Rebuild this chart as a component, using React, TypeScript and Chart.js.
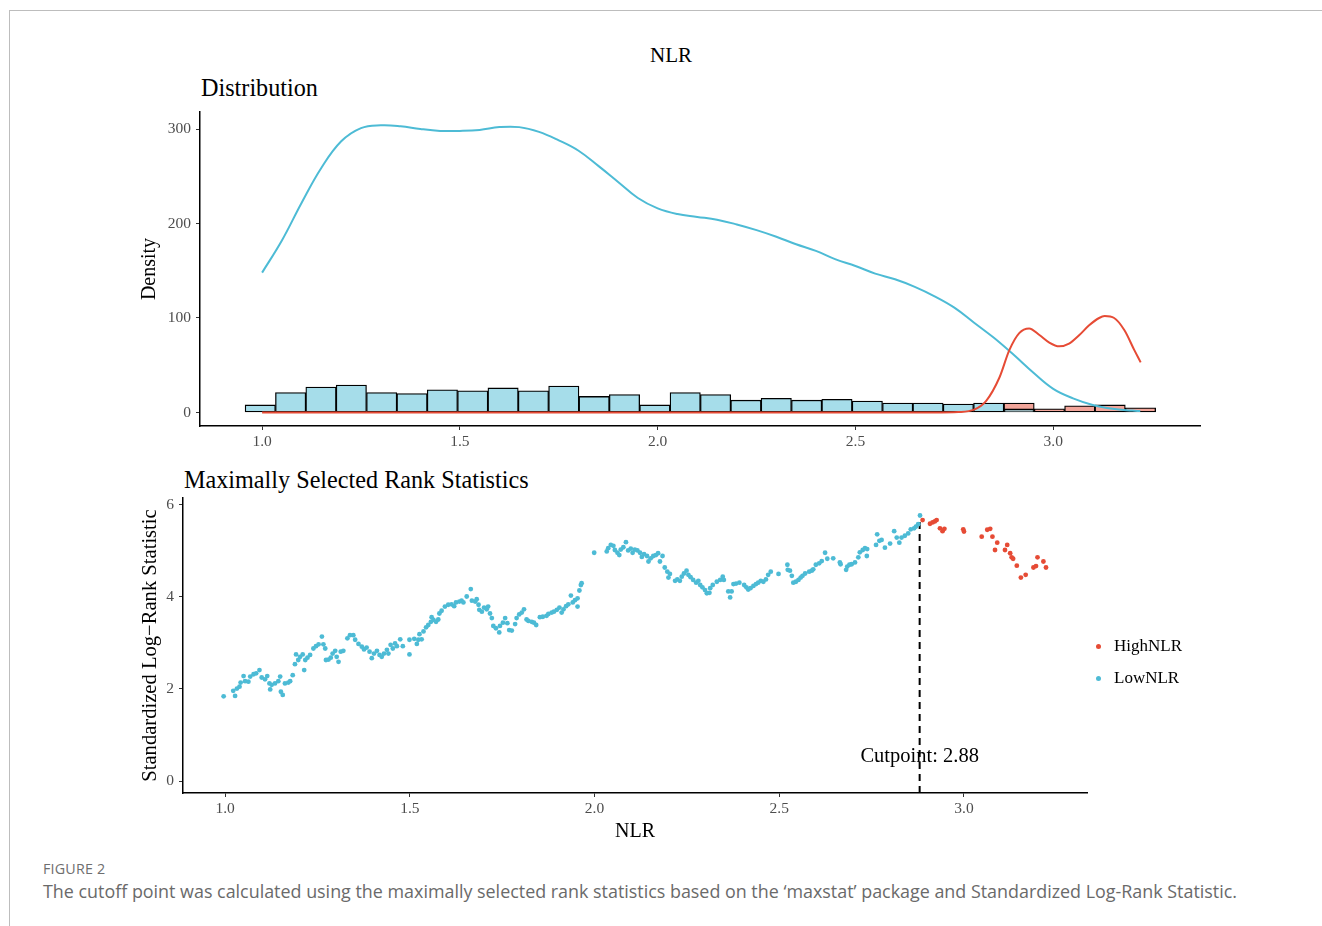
import { useEffect, useRef } from "react";
import { Chart, registerables } from "chart.js";

Chart.register(...registerables);

const SERIF = '"Liberation Serif", "Times New Roman", serif';
const SANS = '"Open Sans", "Noto Sans", sans-serif';
const LOW_COLOR = "#4DBBD5";
const HIGH_COLOR = "#E64B35";
const LOW_FILL = "#A6DDEA";
const HIGH_FILL = "#F2A59A";
const TICK_TEXT = "#4d4d4d";

// ---- Distribution panel: histogram of NLR split by group ----
const BIN_START = 0.957;
const BIN_WIDTH = 0.07673;
const lowCounts = [8, 21, 27, 29, 21, 20, 24, 23, 26, 23, 28, 17, 19, 8, 21, 19, 13, 15, 13, 14, 12, 10, 10, 9, 10, 3, 0, 0, 0, 0];
const highCounts = [0, 0, 0, 0, 0, 0, 0, 0, 0, 0, 0, 0, 0, 0, 0, 0, 0, 0, 0, 0, 0, 0, 0, 0, 0, 7, 4, 7, 8, 5];

// Group density curves (drawn on the same axis)
const lowDensityX = [1.0, 1.05, 1.1, 1.15, 1.2, 1.25, 1.3, 1.35, 1.4, 1.45, 1.5, 1.55, 1.6, 1.65, 1.7, 1.75, 1.8, 1.85, 1.9, 1.95, 2.0, 2.05, 2.1, 2.15, 2.2, 2.25, 2.3, 2.35, 2.4, 2.45, 2.5, 2.55, 2.6, 2.65, 2.7, 2.75, 2.8, 2.85, 2.9, 2.95, 3.0, 3.05, 3.1, 3.15, 3.2, 3.22];
const lowDensityY = [148, 182, 222, 259, 287, 301, 304, 303, 300, 298, 298, 299, 302, 302, 297, 288, 277, 261, 244, 227, 216, 210, 207, 204, 199, 193, 186, 178, 171, 162, 155, 147, 141, 133, 123, 111, 95, 79, 61, 42, 25, 15, 8, 4, 2, 1.5];
const highDensityX = [1.0, 1.5, 2.0, 2.5, 2.7, 2.76, 2.8, 2.83, 2.864, 2.889, 2.914, 2.939, 2.965, 2.99, 3.015, 3.04, 3.066, 3.09, 3.116, 3.13, 3.154, 3.18, 3.205, 3.221];
const highDensityY = [0, 0, 0, 0, 0, 0.5, 3, 12, 37, 66, 84, 89, 82, 74, 70, 73, 82, 92, 100, 102, 100, 87, 66, 53];

const distXTicks = [1.0, 1.5, 2.0, 2.5, 3.0];
const distYTicks = [0, 100, 200, 300];

// ---- Maximally selected rank statistics: [NLR, standardized statistic] ----
const CUTPOINT = 2.88;
const lowPoints: [number, number][] = [
  [0.996, 1.84], [1.022, 1.96], [1.027, 1.85], [1.032, 2.01], [1.039, 2.05], [1.042, 2.14], [1.05, 2.28], [1.054, 2.17], [1.063, 2.16], [1.068, 2.27],
  [1.077, 2.32], [1.084, 2.34], [1.093, 2.41], [1.099, 2.25], [1.108, 2.21], [1.114, 2.28], [1.12, 2.12], [1.122, 1.99], [1.126, 2.09], [1.135, 2.12],
  [1.144, 2.17], [1.149, 2.27], [1.151, 1.94], [1.156, 1.87], [1.162, 2.12], [1.171, 2.14], [1.176, 2.17], [1.183, 2.3], [1.189, 2.54], [1.192, 2.75],
  [1.198, 2.63], [1.203, 2.7], [1.21, 2.75], [1.214, 2.41], [1.217, 2.63], [1.223, 2.68], [1.23, 2.74], [1.239, 2.88], [1.246, 2.93], [1.253, 2.97],
  [1.262, 3.14], [1.266, 2.97], [1.271, 2.88], [1.273, 2.63], [1.28, 2.64], [1.286, 2.68], [1.291, 2.77], [1.298, 2.83], [1.302, 2.7], [1.307, 2.59],
  [1.313, 2.81], [1.32, 2.83], [1.331, 3.1], [1.338, 3.17], [1.347, 3.17], [1.352, 3.07], [1.361, 2.98], [1.37, 2.92], [1.376, 2.86], [1.383, 2.9],
  [1.391, 2.81], [1.397, 2.67], [1.403, 2.77], [1.411, 2.83], [1.418, 2.74], [1.424, 2.7], [1.43, 2.77], [1.438, 2.85], [1.442, 2.77], [1.448, 2.96],
  [1.454, 2.88], [1.46, 2.99], [1.465, 2.93], [1.474, 3.08], [1.481, 2.93], [1.499, 2.75], [1.499, 3.07], [1.512, 3.09], [1.519, 2.98], [1.523, 3.07],
  [1.526, 3.19], [1.532, 3.08], [1.537, 3.25], [1.544, 3.34], [1.55, 3.39], [1.557, 3.46], [1.559, 3.56], [1.564, 3.5], [1.571, 3.46], [1.577, 3.51],
  [1.58, 3.64], [1.586, 3.7], [1.595, 3.79], [1.604, 3.83], [1.613, 3.84], [1.62, 3.8], [1.625, 3.88], [1.634, 3.9], [1.64, 3.92], [1.645, 3.88],
  [1.654, 4.01], [1.665, 4.17], [1.668, 3.92], [1.677, 3.9], [1.681, 3.95], [1.686, 3.83], [1.688, 3.72], [1.695, 3.68], [1.701, 3.77], [1.708, 3.73],
  [1.712, 3.79], [1.717, 3.64], [1.722, 3.54], [1.726, 3.37], [1.733, 3.32], [1.742, 3.23], [1.744, 3.37], [1.752, 3.44], [1.758, 3.54], [1.764, 3.43],
  [1.769, 3.28], [1.776, 3.27], [1.785, 3.41], [1.789, 3.54], [1.796, 3.62], [1.803, 3.66], [1.809, 3.73], [1.816, 3.51], [1.821, 3.48], [1.83, 3.46],
  [1.836, 3.44], [1.842, 3.39], [1.852, 3.56], [1.86, 3.57], [1.87, 3.59], [1.875, 3.63], [1.884, 3.66], [1.89, 3.68], [1.898, 3.72], [1.905, 3.77],
  [1.911, 3.66], [1.916, 3.73], [1.923, 3.8], [1.929, 3.84], [1.936, 4.03], [1.941, 3.88], [1.947, 3.93], [1.954, 3.97], [1.954, 3.79], [1.959, 4.14],
  [1.963, 4.26], [1.965, 4.3], [1.999, 4.96], [2.033, 4.99], [2.037, 5.06], [2.044, 5.13], [2.051, 5.11], [2.055, 5.02], [2.062, 4.96], [2.067, 4.91],
  [2.071, 5.03], [2.078, 5.08], [2.085, 5.19], [2.091, 5.01], [2.098, 5.05], [2.103, 4.96], [2.109, 5.03], [2.116, 5.01], [2.123, 4.96], [2.128, 4.87],
  [2.134, 4.93], [2.142, 4.89], [2.146, 4.77], [2.152, 4.84], [2.159, 4.89], [2.166, 4.91], [2.172, 4.95], [2.177, 4.77], [2.184, 4.89], [2.19, 4.64],
  [2.197, 4.55], [2.2, 4.42], [2.204, 4.5], [2.218, 4.35], [2.224, 4.38], [2.231, 4.35], [2.236, 4.44], [2.242, 4.51], [2.249, 4.57], [2.254, 4.48],
  [2.26, 4.43], [2.267, 4.37], [2.275, 4.31], [2.281, 4.35], [2.286, 4.26], [2.292, 4.21], [2.299, 4.15], [2.304, 4.08], [2.311, 4.09], [2.313, 4.19],
  [2.32, 4.26], [2.331, 4.33], [2.34, 4.37], [2.347, 4.44], [2.35, 4.37], [2.362, 4.12], [2.367, 3.99], [2.371, 4.12], [2.376, 4.28], [2.383, 4.29],
  [2.392, 4.31], [2.405, 4.26], [2.411, 4.21], [2.416, 4.16], [2.422, 4.19], [2.43, 4.24], [2.437, 4.28], [2.443, 4.31], [2.45, 4.35], [2.457, 4.33],
  [2.464, 4.38], [2.47, 4.48], [2.477, 4.55], [2.498, 4.5], [2.522, 4.7], [2.523, 4.59], [2.529, 4.57], [2.534, 4.46], [2.538, 4.31], [2.545, 4.33],
  [2.552, 4.37], [2.558, 4.42], [2.563, 4.46], [2.57, 4.51], [2.581, 4.55], [2.588, 4.57], [2.592, 4.6], [2.599, 4.7], [2.608, 4.73], [2.615, 4.78],
  [2.624, 4.96], [2.63, 4.83], [2.646, 4.84], [2.664, 4.75], [2.666, 4.71], [2.681, 4.59], [2.684, 4.66], [2.69, 4.7], [2.696, 4.71], [2.705, 4.75],
  [2.714, 4.86], [2.718, 4.97], [2.726, 5.02], [2.732, 5.06], [2.738, 5.04], [2.737, 4.89], [2.762, 5.13], [2.765, 5.36], [2.771, 5.22], [2.777, 5.24],
  [2.786, 5.07], [2.8, 5.16], [2.811, 5.43], [2.818, 5.29], [2.825, 5.18], [2.831, 5.29], [2.84, 5.33], [2.849, 5.38], [2.856, 5.47], [2.865, 5.49],
  [2.87, 5.53], [2.876, 5.58], [2.881, 5.77],
];
const highPoints: [number, number][] = [
  [2.888, 5.67], [2.908, 5.59], [2.915, 5.62], [2.921, 5.64], [2.926, 5.67], [2.935, 5.49], [2.942, 5.43], [2.947, 5.48], [2.998, 5.47], [3.0, 5.42],
  [3.048, 5.31], [3.063, 5.46], [3.071, 5.48], [3.077, 5.31], [3.084, 5.02], [3.09, 5.18], [3.111, 5.02], [3.117, 5.13], [3.125, 4.95], [3.129, 4.86],
  [3.133, 4.83], [3.143, 4.68], [3.154, 4.42], [3.167, 4.48], [3.188, 4.64], [3.195, 4.67], [3.199, 4.86], [3.215, 4.77], [3.222, 4.64],
];
const rankXTicks = [1.0, 1.5, 2.0, 2.5, 3.0];
const rankYTicks = [0, 2, 4, 6];

const tickFont = { family: SERIF, size: 15.5 };
const titleFont = { family: SERIF, size: 20 };

// Shared ggplot-like axis: black axis line, short outside ticks, no grid
function axisCommon(ticks: number[], digits: number) {
  return {
    type: "linear" as const,
    offset: false,
    afterBuildTicks: (s: any) => {
      s.ticks = ticks.map((v) => ({ value: v }));
    },
    grid: { offset: false, drawOnChartArea: false, drawTicks: true, tickLength: 4, color: "#333333", lineWidth: 1 },
    border: { display: true, color: "#000000", width: 1.5 },
    ticks: {
      color: TICK_TEXT,
      font: tickFont,
      maxRotation: 0,
      autoSkip: false,
      callback: (v: any) => Number(v).toFixed(digits),
    },
  };
}

function fixHeight(h: number) {
  return (s: any) => {
    s.height = h;
    s.paddingLeft = 0;
    s.paddingRight = 0;
  };
}

function fixWidth(w: number) {
  return (s: any) => {
    s.width = w;
    s.paddingTop = 0;
    s.paddingBottom = 0;
  };
}

function distributionConfig(): any {
  const mids = lowCounts.map((_, i) => BIN_START + BIN_WIDTH * (i + 0.5));
  const lowBars = mids
    .map((x, i) => ({ x, y: [0, lowCounts[i]] }))
    .filter((d) => d.y[1] > 0);
  const highBars = mids
    .map((x, i) => ({ x, y: [lowCounts[i], lowCounts[i] + highCounts[i]] }))
    .filter((_, i) => highCounts[i] > 0);
  const x = axisCommon(distXTicks, 1);
  const y = axisCommon(distYTicks, 0);
  const barStyle = {
    type: "bar",
    borderColor: "#000000",
    borderWidth: 1.3,
    borderSkipped: false,
    grouped: false,
    barPercentage: 1,
    categoryPercentage: 1,
  };
  return {
    type: "bar",
    data: {
      datasets: [
        { ...barStyle, label: "LowNLR", data: lowBars, backgroundColor: LOW_FILL, order: 4 },
        { ...barStyle, label: "HighNLR", data: highBars, backgroundColor: HIGH_FILL, order: 3 },
        {
          type: "line",
          label: "LowNLR density",
          data: lowDensityX.map((v, i) => ({ x: v, y: lowDensityY[i] })),
          borderColor: LOW_COLOR,
          borderWidth: 2,
          pointRadius: 0,
          tension: 0.4,
          fill: false,
          order: 2,
        },
        {
          type: "line",
          label: "HighNLR density",
          data: highDensityX.map((v, i) => ({ x: v, y: highDensityY[i] })),
          borderColor: HIGH_COLOR,
          borderWidth: 2,
          pointRadius: 0,
          cubicInterpolationMode: "monotone",
          fill: false,
          order: 1,
        },
      ],
    },
    options: {
      animation: false,
      responsive: false,
      maintainAspectRatio: false,
      layout: { padding: { left: 138, top: 12, right: 30, bottom: 0 } },
      plugins: { legend: { display: false }, tooltip: { enabled: false } },
      scales: {
        x: {
          ...x,
          min: 0.843,
          max: 3.371,
          afterFit: fixHeight(34),
          ticks: { ...x.ticks, padding: 3 },
        },
        y: {
          ...y,
          min: -14.3,
          max: 318,
          afterFit: fixWidth(62),
          ticks: { ...y.ticks, padding: 5 },
          title: { display: true, text: "Density", color: "#000000", font: titleFont, padding: 0 },
        },
      },
    },
  };
}

const cutpointLabel = {
  id: "cutpointLabel",
  afterDatasetsDraw(chart: any) {
    const { ctx, scales } = chart;
    ctx.save();
    ctx.font = `20.5px ${SERIF}`;
    ctx.fillStyle = "#000000";
    ctx.textAlign = "center";
    ctx.textBaseline = "middle";
    ctx.fillText(`Cutpoint: ${CUTPOINT.toFixed(2)}`, scales.x.getPixelForValue(CUTPOINT), scales.y.getPixelForValue(0.52));
    ctx.restore();
  },
};

function rankConfig(): any {
  const yMin = -0.26;
  const maxStat = Math.max(...lowPoints.map((p) => p[1]), ...highPoints.map((p) => p[1]));
  const x = axisCommon(rankXTicks, 1);
  const y = axisCommon(rankYTicks, 0);
  return {
    type: "scatter",
    data: {
      datasets: [
        {
          label: "HighNLR",
          data: highPoints.map(([a, b]) => ({ x: a, y: b })),
          backgroundColor: HIGH_COLOR,
          borderWidth: 0,
          pointRadius: 2.4,
        },
        {
          label: "LowNLR",
          data: lowPoints.map(([a, b]) => ({ x: a, y: b })),
          backgroundColor: LOW_COLOR,
          borderWidth: 0,
          pointRadius: 2.4,
        },
        {
          type: "line",
          label: "Cutpoint",
          data: [
            { x: CUTPOINT, y: yMin },
            { x: CUTPOINT, y: maxStat },
          ],
          borderColor: "#000000",
          borderWidth: 2,
          borderDash: [7, 5],
          pointRadius: 0,
          fill: false,
        },
      ],
    },
    options: {
      animation: false,
      responsive: false,
      maintainAspectRatio: false,
      layout: { padding: { left: 138, top: 8, right: 13, bottom: 0 } },
      plugins: { legend: { display: false }, tooltip: { enabled: false } },
      scales: {
        x: {
          ...x,
          min: 0.886,
          max: 3.333,
          afterFit: fixHeight(57),
          ticks: { ...x.ticks, padding: 3 },
          title: { display: true, text: "NLR", color: "#000000", font: titleFont, padding: { top: 0, bottom: 6 } },
        },
        y: {
          ...y,
          min: yMin,
          max: 6.15,
          afterFit: fixWidth(45),
          ticks: { ...y.ticks, padding: 5 },
          title: { display: true, text: "Standardized Log\u2212Rank Statistic", color: "#000000", font: { family: SERIF, size: 20.6 }, padding: 0 },
        },
      },
    },
    plugins: [cutpointLabel],
  };
}

function ChartCanvas(props: { make: () => any; left: number; top: number; width: number; height: number }) {
  const ref = useRef<HTMLCanvasElement | null>(null);
  useEffect(() => {
    if (!ref.current) return;
    const chart = new Chart(ref.current, props.make());
    return () => chart.destroy();
  }, []);
  return (
    <canvas
      ref={ref}
      width={props.width}
      height={props.height}
      style={{ position: "absolute", left: props.left, top: props.top, width: props.width, height: props.height }}
    />
  );
}

function LegendItem(props: { color: string; label: string; top: number }) {
  return (
    <div style={{ position: "absolute", left: 1094, top: props.top, height: 20, display: "flex", alignItems: "center" }}>
      <span style={{ width: 5, height: 5, borderRadius: "50%", background: props.color, display: "inline-block", marginLeft: 2 }} />
      <span style={{ marginLeft: 13, font: `17px ${SERIF}`, color: "#000" }}>{props.label}</span>
    </div>
  );
}

export default function App() {
  return (
    <div style={{ position: "absolute", left: 0, top: 0, width: 1322, height: 926, overflow: "hidden", background: "#fff" }}>
      <div
        style={{
          position: "absolute",
          left: 9,
          top: 10,
          right: 0,
          bottom: 0,
          borderTop: "1px solid #bdbdbd",
          borderLeft: "1px solid #bdbdbd",
        }}
      />
      <div style={{ position: "absolute", left: 0, width: 1342, top: 43, textAlign: "center", font: `21px ${SERIF}`, color: "#000" }}>NLR</div>
      <div style={{ position: "absolute", left: 201, top: 74, font: `24.2px ${SERIF}`, color: "#000" }}>Distribution</div>
      <ChartCanvas make={distributionConfig} left={0} top={100} width={1230} height={360} />
      <div style={{ position: "absolute", left: 184, top: 466, font: `24.2px ${SERIF}`, color: "#000" }}>
        Maximally Selected Rank Statistics
      </div>
      <ChartCanvas make={rankConfig} left={0} top={490} width={1100} height={360} />
      <LegendItem color={HIGH_COLOR} label="HighNLR" top={636} />
      <LegendItem color={LOW_COLOR} label="LowNLR" top={668} />
      <div style={{ position: "absolute", left: 43, top: 859, font: `14.3px ${SANS}`, color: "#6e6e6e", letterSpacing: 0.2 }}>FIGURE 2</div>
      <div style={{ position: "absolute", left: 43, top: 879, font: `17.9px ${SANS}`, color: "#6a6a6a", whiteSpace: "nowrap" }}>
        The cutoff point was calculated using the maximally selected rank statistics based on the ‘maxstat’ package and
        Standardized Log-Rank Statistic.
      </div>
    </div>
  );
}
